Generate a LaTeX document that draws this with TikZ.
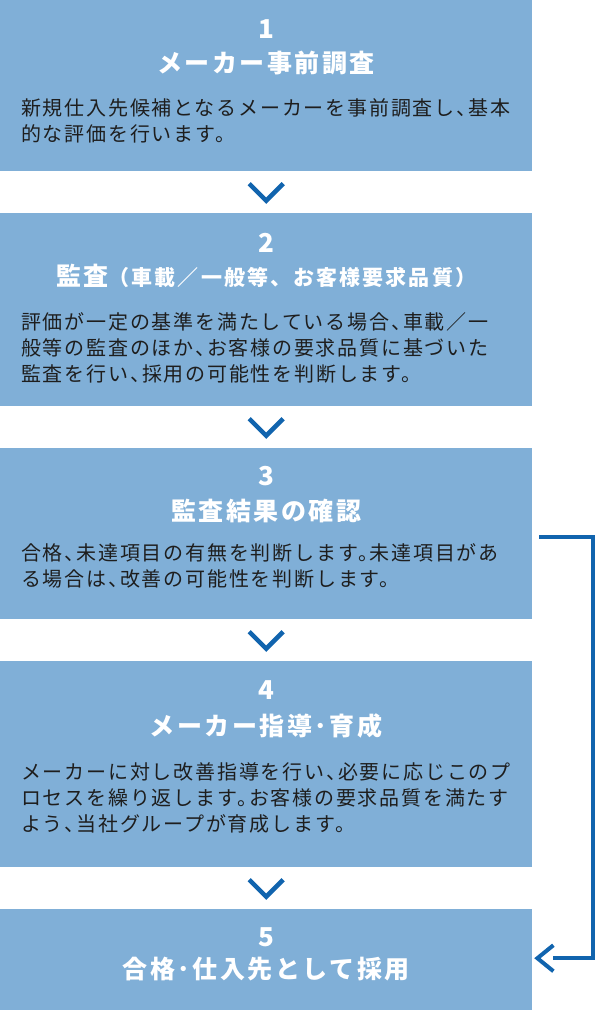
\documentclass[tikz,border=0pt]{standalone}
\usepackage{fontspec}
\usepackage{xcolor}
\usepackage{tikz}
\setmainfont{Noto Sans CJK JP}
\newfontfamily\jpbody[LetterSpace=9,RawFeature=+halt]{Noto Sans CJK JP}
\newfontfamily\jphead[LetterSpace=10]{Noto Sans CJK JP}
\usetikzlibrary{arrows.meta,positioning,calc}

\definecolor{stepblue}{HTML}{80AFD7}
\definecolor{flowblue}{HTML}{1164AE}
\definecolor{bodyink}{HTML}{1E1E1E}

\begin{document}
\begin{tikzpicture}[
  x=1pt, y=-1pt,
  stepbox/.style={
    fill=stepblue,
    draw=none,
    anchor=north west,
    inner sep=0pt,
    minimum width=532pt
  },
  numtext/.style={
    text=white,
    inner sep=0pt,
    font=\jphead\bfseries\fontsize{26}{26}\selectfont
  },
  titletext/.style={
    text=white,
    inner sep=0pt,
    font=\jphead\bfseries\fontsize{25}{25}\selectfont
  },
  bodytext/.style={
    text=bodyink,
    anchor=north west,
    inner sep=0pt,
    align=left,
    font=\jpbody\fontsize{20}{26}\selectfont
  },
  chevron/.style={
    draw=flowblue,
    line width=4.5pt
  },
  feedback/.style={
    draw=flowblue,
    line width=4pt
  }
]
\useasboundingbox (0,0) rectangle (596,1012);

%---------------------------------
% Step boxes
%---------------------------------
\node[stepbox, minimum height=171pt] (box1) at (0,0) {};
\node[stepbox, minimum height=193pt] (box2) at (0,213) {};
\node[stepbox, minimum height=171pt] (box3) at (0,448) {};
\node[stepbox, minimum height=206pt] (box4) at (0,661) {};
\node[stepbox, minimum height=101pt] (box5) at (0,909) {};

%---------------------------------
% Step 1
%---------------------------------
\node[numtext]   (num1)   at ($(box1.north)+(0,29)$) {1};
\node[titletext] (title1) at ($(box1.north)+(0,63)$) {メーカー事前調査};
\node[bodytext]  (body1)  at ($(box1.north west)+(21,98)$)
{新規仕入先候補となるメーカーを事前調査し、基本\\
的な評価を行います。};

%---------------------------------
% Step 2
%---------------------------------
\node[numtext]   (num2)   at ($(box2.north)+(0,30)$) {2};
\node[titletext] (title2) at ($(box2.north)+(0,63)$)
{監査{\fontsize{21}{21}\selectfont（車載／一般等、お客様要求品質）}};
\node[bodytext]  (body2)  at ($(box2.north west)+(21,99)$)
{評価が一定の基準を満たしている場合、車載／一\\
般等の監査のほか、お客様の要求品質に基づいた\\
監査を行い、採用の可能性を判断します。};

%---------------------------------
% Step 3
%---------------------------------
\node[numtext]   (num3)   at ($(box3.north)+(0,28)$) {3};
\node[titletext] (title3) at ($(box3.north)+(0,63)$) {監査結果の確認};
\node[bodytext]  (body3)  at ($(box3.north west)+(21,95)$)
{合格、未達項目の有無を判断します。未達項目があ\\
る場合は、改善の可能性を判断します。};

%---------------------------------
% Step 4
%---------------------------------
\node[numtext]   (num4)   at ($(box4.north)+(0,29)$) {4};
\node[titletext] (title4) at ($(box4.north)+(0,65)$) {メーカー指導･育成};
\node[bodytext]  (body4)  at ($(box4.north west)+(21,101)$)
{メーカーに対し改善指導を行い、必要に応じこのプ\\
ロセスを繰り返します。お客様の要求品質を満たす\\
よう、当社グループが育成します。};

%---------------------------------
% Step 5
%---------------------------------
\node[numtext]   (num5)   at ($(box5.north)+(0,28)$) {5};
\node[titletext] (title5) at ($(box5.north)+(0,60)$) {合格･仕入先として採用};

%---------------------------------
% Chevrons between steps
%---------------------------------
\foreach \a/\b in {box1/box2, box2/box3, box3/box4, box4/box5}
  \draw[chevron] ($(\a.south)!0.5!(\b.north)+(-17,-8.5)$) -- ++(17,17) -- ++(17,-17);

%---------------------------------
% Loop back from step 3 to step 5
%---------------------------------
\coordinate (loopstart) at ($(box3.east)+(7,3.5)$);
\coordinate (loopend)   at ($(box5.east)+(21,-1.5)$);
\draw[feedback] (loopstart) -- ++(54,0) |- (loopend);
\draw[feedback] ($(loopend)+(0,-13)$) -- ++(-16,13) -- ++(16,13);

\end{tikzpicture}
\end{document}
